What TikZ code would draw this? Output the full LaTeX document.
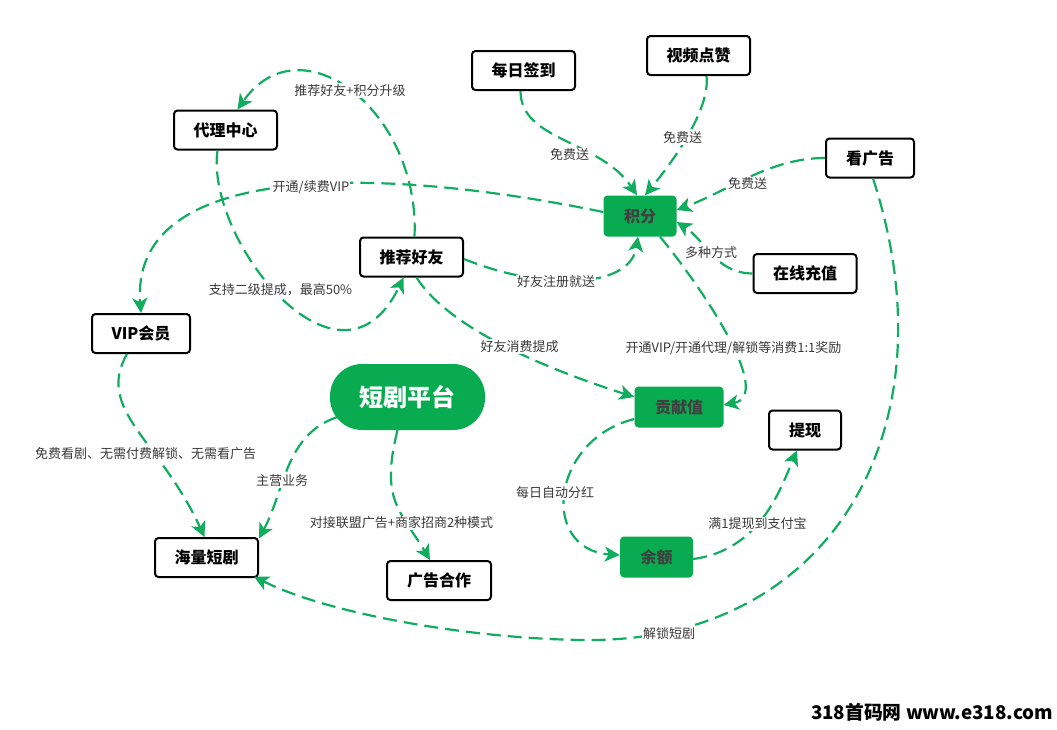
\documentclass[tikz,border=0pt]{standalone}
\usepackage{fontspec}
\setmainfont{Noto Sans CJK SC}
\usetikzlibrary{arrows.meta}
\definecolor{gline}{HTML}{10AD5F}
\definecolor{gfill}{HTML}{08AB50}
\definecolor{ltext}{HTML}{3A3A3A}
\tikzset{
  wbox/.style={draw=black,line width=2pt,fill=white,rounded corners=3.5pt,inner sep=0pt,font=\fontsize{16}{18}\selectfont\bfseries,text=black},
  gbox/.style={fill=gfill,rounded corners=4pt,inner sep=0pt,font=\fontsize{16}{18}\selectfont\bfseries,text=black!75},
  lnk/.style={draw=gline,line width=2.2pt,dash pattern=on 14pt off 7pt,-{Stealth[length=15pt,width=15pt,inset=4pt]}},
  lab/.style={fill=white,inner sep=1pt,text=ltext,font=\fontsize{13}{15}\selectfont}
}
\begin{document}
\begin{tikzpicture}[x=1pt,y=-1pt]
\useasboundingbox (0,0) rectangle (1057,729);
\node[wbox,minimum width=103pt,minimum height=39pt] (sign) at (523.5,70.5) {每日签到};
\node[wbox,minimum width=103pt,minimum height=39pt] (like) at (698.5,55.5) {视频点赞};
\node[wbox,minimum width=103pt,minimum height=39pt] (agent) at (225.5,130) {代理中心};
\node[gbox,minimum width=73pt,minimum height=41pt] (points) at (640,216) {积分};
\node[wbox,minimum width=88pt,minimum height=39pt] (ad) at (870,158) {看广告};
\node[wbox,minimum width=103pt,minimum height=39pt] (pay) at (805,273.5) {在线充值};
\node[wbox,minimum width=103pt,minimum height=39pt] (refer) at (411.5,257) {推荐好友};
\node[wbox,minimum width=98pt,minimum height=39pt] (vip) at (141,333.5) {VIP会员};
\node[gbox,minimum width=89pt,minimum height=41pt] (contrib) at (679,407) {贡献值};
\node[wbox,minimum width=72pt,minimum height=39pt] (cash) at (805,430) {提现};
\node[fill=gfill,rounded corners=32pt,minimum width=155pt,minimum height=66pt,inner sep=0pt,text=white,font=\fontsize{24}{28}\selectfont\bfseries] (main) at (407.5,397) {短剧平台};
\node[gbox,minimum width=73pt,minimum height=41pt] (bal) at (656.5,557) {余额};
\node[wbox,minimum width=103pt,minimum height=39pt] (drama) at (206.5,557.5) {海量短剧};
\node[wbox,minimum width=104pt,minimum height=39pt] (coop) at (439,580.5) {广告合作};

\draw[lnk] ([xshift=-3pt]sign.south) .. controls +(0,50) and (600,140) .. ([xshift=-3pt]points.north);
\draw[lnk] ([xshift=8pt]like.south) .. controls +(4,35) and (670,165) .. ([xshift=5pt]points.north);
\draw[lnk] (ad.west) .. controls (770,158) and (730,190) .. ([yshift=6pt]points.east);
\draw[lnk] (pay.west) .. controls (715,273) and (705,240) .. ([yshift=-6pt]points.east);
\draw[lnk] ([xshift=20pt]points.south) .. controls (700,285) and (775,395) .. ([yshift=2pt]contrib.east);
\draw[lnk] ([yshift=4pt]points.west) .. controls (350,160) and (130,170) .. (vip.north);
\draw[lnk] ([xshift=3pt]refer.north) .. controls (420,110) and (300,20) .. ([xshift=12pt]agent.north);
\draw[lnk] ([xshift=-8pt]agent.south) .. controls (205,240) and (340,410) .. ([xshift=-8pt]refer.south);
\draw[lnk] ([yshift=-2pt]refer.east) .. controls (540,290) and (630,290) .. ([xshift=-2pt]points.south);
\draw[lnk] ([xshift=5pt]refer.south) .. controls (450,330) and (550,370) .. ([yshift=10pt]contrib.west);
\draw[lnk] ([xshift=-14pt]vip.south) .. controls (95,410) and (160,440) .. ([xshift=-2pt]drama.north);
\draw[lnk] (main.south west) ++(7,-13) .. controls (285,435) and (285,490) .. ([yshift=19pt]drama.east);
\draw[lnk] ([xshift=-10pt]main.south) .. controls (380,500) and (400,510) .. ([xshift=-9pt]coop.north);
\draw[lnk] ([yshift=-12pt]contrib.west) .. controls (550,440) and (540,550) .. ([yshift=2pt]bal.west);
\draw[lnk] ([yshift=-2pt]bal.east) .. controls (760,550) and (780,490) .. ([xshift=-8pt]cash.south);
\draw[lnk] ([xshift=3pt]ad.south) .. controls (955,430) and (830,640) .. (590,640) .. controls (480,640) and (330,615) .. ([yshift=-19pt,xshift=-5pt]drama.east);

\node[lab] (l1) at (569.5,155) {免费送};
\node[lab] (l2) at (682.5,138) {免费送};
\node[lab] (l3) at (747.5,183.5) {免费送};
\node[lab] (l4) at (711,253) {多种方式};
\node[lab] (l5) at (733.5,348) {开通VIP/开通代理/解锁等消费1:1奖励};
\node[lab] (l6) at (311,187) {开通/续费VIP};
\node[lab] (l7) at (350,90.5) {推荐好友+积分升级};
\node[lab] (l8) at (280.5,290) {支持二级提成，最高50\%};
\node[lab] (l9) at (556,282) {好友注册就送};
\node[lab] (l10) at (519.5,346.5) {好友消费提成};
\node[lab] (l11) at (145.5,453.5) {免费看剧、无需付费解锁、无需看广告};
\node[lab] (l12) at (282,481) {主营业务};
\node[lab] (l13) at (401.5,523) {对接联盟广告+商家招商2种模式};
\node[lab] (l14) at (555,493) {每日自动分红};
\node[lab] (l15) at (757.5,524) {满1提现到支付宝};
\node[lab] (l16) at (669,633.5) {解锁短剧};
\node[inner sep=0pt,text=black,font=\fontsize{18.8}{22}\selectfont\bfseries] (wm) at (932,712) {318首码网 www.e318.com};
\end{tikzpicture}
\end{document}
